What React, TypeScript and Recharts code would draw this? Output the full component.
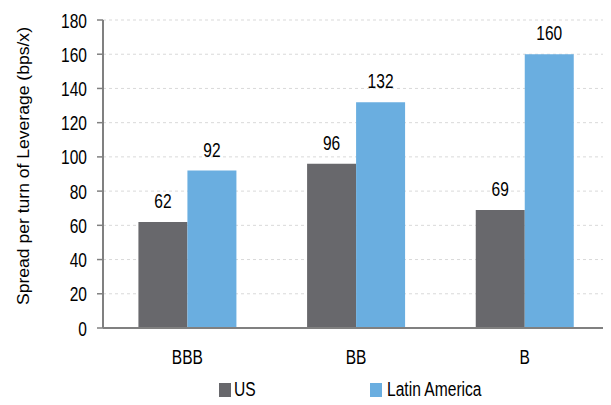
import React from 'react';
import { BarChart, Bar, XAxis, YAxis, CartesianGrid, Legend, LabelList } from 'recharts';

const categories = ['BBB', 'BB', 'B'];
const usValues = [62, 96, 69];
const latamValues = [92, 132, 160];
const yTicks = [0, 20, 40, 60, 80, 100, 120, 140, 160, 180];
const boundaryTicks = [0, 1, 2, 3];
const yAxisTitle = 'Spread per turn of Leverage (bps/x)';

const data = categories.map((c, i) => ({ name: c, us: usValues[i], latam: latamValues[i], idx: i + 0.5 }));

const FONT = '"Liberation Sans", Arial, sans-serif';
const US_COLOR = '#68686c';
const LA_COLOR = '#6aaee0';
const FS = 21;
const SX = 0.74;

const narrow = (x: number, y: number) => `translate(${x},${y}) scale(${SX},1) translate(${-x},${-y})`;

const YTick = (props: any) => {
  const { x, y, payload } = props;
  return (
    <text x={x} y={y} dy="0.36em" textAnchor="end" fontFamily={FONT} fontSize={FS} fill="#000" transform={narrow(x, y)}>
      {payload.value}
    </text>
  );
};

const XTick = (props: any) => {
  const { x, y, payload } = props;
  return (
    <text x={x} y={y} dy="0.71em" textAnchor="middle" fontFamily={FONT} fontSize={FS} fill="#000" transform={narrow(x, y)}>
      {payload.value}
    </text>
  );
};

const ValueLabel = (props: any) => {
  const { x, y, width, value } = props;
  const cx = x + width / 2;
  const cy = y - 14;
  return (
    <text x={cx} y={cy} textAnchor="middle" fontFamily={FONT} fontSize={FS} fill="#000" transform={narrow(cx, cy)}>
      {value}
    </text>
  );
};

const YTitle = () => (
  <text
    x={15}
    y={158}
    transform="rotate(-90, 15, 158)"
    textAnchor="middle"
    dominantBaseline="central"
    fontFamily={FONT}
    fontSize={17}
    fill="#000"
    textLength={278}
    lengthAdjust="spacingAndGlyphs"
  >
    {yAxisTitle}
  </text>
);

const legendText: React.CSSProperties = {
  display: 'inline-block',
  transform: `scaleX(${SX + 0.04})`,
  transformOrigin: 'left center',
  whiteSpace: 'nowrap',
};

const renderLegend = () => (
  <div style={{ position: 'relative', height: 37, fontFamily: FONT, fontSize: 20, color: '#000' }}>
    <div style={{ position: 'absolute', left: 211, top: 10, display: 'flex', alignItems: 'center' }}>
      <span style={{ width: 12, height: 14, background: US_COLOR, display: 'inline-block', marginRight: 3 }} />
      <span style={legendText}>US</span>
    </div>
    <div style={{ position: 'absolute', left: 362, top: 10, display: 'flex', alignItems: 'center' }}>
      <span style={{ width: 12, height: 14, background: LA_COLOR, display: 'inline-block', marginRight: 5 }} />
      <span style={legendText}>Latin America</span>
    </div>
  </div>
);

export default function App() {
  return (
    <BarChart
      width={603}
      height={397}
      data={data}
      margin={{ top: 12, right: 2, left: 0, bottom: 0 }}
      barCategoryGap="21%"
      barGap={0}
    >
      <CartesianGrid vertical={false} stroke="#d9d9d9" strokeDasharray="3 3" />
      <XAxis
        xAxisId="ticks"
        type="number"
        domain={[0, 3]}
        ticks={boundaryTicks}
        tick={false}
        axisLine={false}
        tickLine={{ stroke: '#808080', strokeWidth: 1.5 }}
        tickSize={6}
        height={0}
        dataKey="idx"
      />
      <XAxis
        dataKey="name"
        xAxisId="cat"
        tickLine={false}
        axisLine={{ stroke: '#808080', strokeWidth: 2 }}
        tick={<XTick />}
        tickMargin={15}
        height={40}
      />
      <YAxis
        domain={[0, 180]}
        ticks={yTicks}
        width={95}
        axisLine={{ stroke: '#808080', strokeWidth: 2 }}
        tickLine={{ stroke: '#808080', strokeWidth: 1.5 }}
        tickSize={6}
        tickMargin={10}
        tick={<YTick />}
        interval={0}
        label={<YTitle />}
      />
      <Legend content={renderLegend} verticalAlign="bottom" height={37} />
      <Bar dataKey="us" xAxisId="cat" fill={US_COLOR} isAnimationActive={false}>
        <LabelList dataKey="us" content={<ValueLabel />} />
      </Bar>
      <Bar dataKey="latam" xAxisId="cat" fill={LA_COLOR} isAnimationActive={false}>
        <LabelList dataKey="latam" content={<ValueLabel />} />
      </Bar>
    </BarChart>
  );
}
